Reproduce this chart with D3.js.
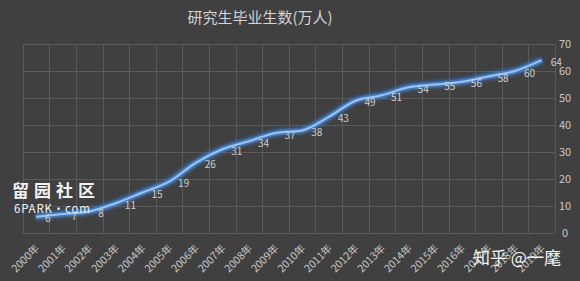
<!DOCTYPE html>
<html>
<head>
<meta charset="utf-8">
<script src="https://cdn.jsdelivr.net/npm/d3@7.9.0/dist/d3.min.js"></script>
<style>
  html, body { margin: 0; padding: 0; background: #404040; }
  svg { display: block; }
  text { font-family: "Noto Sans CJK SC", "Noto Sans", sans-serif; }
</style>
</head>
<body>
<svg id="chart" width="580" height="281"></svg>
<script>
const years  = ['2000年','2001年','2002年','2003年','2004年','2005年','2006年','2007年','2008年','2009年',
                '2010年','2011年','2012年','2013年','2014年','2015年','2016年','2017年','2018年','2019年'];
const grads  = [6, 7, 8, 11, 15, 19, 26, 31, 34, 37, 38, 43, 49, 51, 54, 55, 56, 58, 60, 64];
const yTicks = [0, 10, 20, 30, 40, 50, 60, 70];

const svg = d3.select('#chart');
const W = 580, H = 281;
const m = { left: 22.7, right: 25, top: 44, bottom: 48 };

svg.append('rect').attr('width', W).attr('height', H).attr('fill', '#404040');

const x = d3.scaleBand().domain(years).range([m.left, W - m.right]);
const y = d3.scaleLinear().domain([0, 70]).range([H - m.bottom, m.top]);

/* glow filter for the line */
const defs = svg.append('defs');
const f = defs.append('filter').attr('id', 'glow').attr('x', '-10%').attr('y', '-50%')
  .attr('width', '120%').attr('height', '200%');
f.append('feGaussianBlur').attr('stdDeviation', 2.2).attr('result', 'b');
const mg = f.append('feMerge');
mg.append('feMergeNode').attr('in', 'b');
mg.append('feMergeNode').attr('in', 'SourceGraphic');

/* grid */
const grid = svg.append('g').attr('stroke', '#5a5a5a').attr('stroke-width', 1);
grid.selectAll('line.h').data(yTicks).enter().append('line')
  .attr('x1', m.left).attr('x2', W - m.right)
  .attr('y1', d => Math.round(y(d)) + 0.5).attr('y2', d => Math.round(y(d)) + 0.5);
const vx = years.map(d => x(d)).concat([W - m.right]);
grid.selectAll('line.v').data(vx).enter().append('line')
  .attr('x1', d => Math.round(d) + 0.5).attr('x2', d => Math.round(d) + 0.5)
  .attr('y1', y(70)).attr('y2', y(0));

/* right axis */
const yAxis = d3.axisRight(y).tickValues(yTicks).tickSize(0).tickPadding(0);
const ya = svg.append('g').attr('transform', `translate(565,0)`).call(yAxis);
ya.select('.domain').remove();
ya.selectAll('text').attr('fill', '#c8c8c8').attr('font-size', 11)
  .attr('text-anchor', 'middle').attr('dy', '0.35em');

/* bottom axis */
const xAxis = d3.axisBottom(x).tickSize(0).tickPadding(0);
const xa = svg.append('g').attr('transform', `translate(0,${y(0)})`).call(xAxis);
xa.select('.domain').remove();
xa.selectAll('text').attr('fill', '#c8c8c8').attr('font-size', 10.5)
  .attr('text-anchor', 'end').attr('dy', 0)
  .attr('transform', 'translate(4,16) rotate(-45)');

/* line */
const line = d3.line()
  .x((d, i) => x(years[i]) + x.bandwidth() / 2)
  .y(d => y(d))
  .curve(d3.curveMonotoneX);
svg.append('path').datum(grads)
  .attr('d', line).attr('fill', 'none')
  .attr('stroke', '#3d7fd0').attr('stroke-width', 5.5).attr('stroke-opacity', 0.8)
  .attr('filter', 'url(#glow)');
svg.append('path').datum(grads)
  .attr('d', line).attr('fill', 'none')
  .attr('stroke', '#a2c4ec').attr('stroke-width', 2);

/* data labels */
svg.append('g').selectAll('text').data(grads).enter().append('text')
  .attr('x', (d, i) => x(years[i]) + x.bandwidth() / 2 + 9)
  .attr('y', d => y(d) + 2)
  .attr('dy', '0.35em')
  .attr('fill', '#cfcfcf').attr('font-size', 10)
  .text(d => d);

/* title */
svg.append('text').attr('x', 260).attr('y', 18).attr('dy', '0.35em')
  .attr('text-anchor', 'middle').attr('fill', '#d4d4d4').attr('font-size', 15)
  .text('研究生毕业生数(万人)');

/* watermarks */
svg.append('text').attr('x', 12).attr('y', 197)
  .attr('fill', '#f2f2f2').attr('font-size', 17).attr('font-weight', 'bold')
  .attr('letter-spacing', 5).text('留园社区');
svg.append('text').attr('x', 14).attr('y', 213)
  .attr('fill', '#f2f2f2').attr('font-size', 11.5).attr('letter-spacing', 0.8)
  .attr('font-family', 'DejaVu Sans').text('6PARK·com');
svg.append('text').attr('x', 473).attr('y', 264)
  .attr('fill', '#f4f4f4').attr('font-size', 17).text('知乎 @一麾');
</script>
</body>
</html>
